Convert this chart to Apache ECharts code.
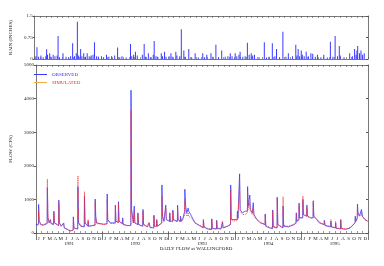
<!DOCTYPE html>
<html><head><meta charset="utf-8">
<script src="https://cdn.jsdelivr.net/npm/echarts@6/dist/echarts.min.js"></script>
<style>html,body{margin:0;padding:0;background:#fff}#c{width:384px;height:266px}</style>
</head><body><div id="c"></div>
<script>
const monthLetters = ['J','F','M','A','M','J','J','A','S','O','N','D'];
const yearLabels = ['1991','1992','1993','1994','1995'];
const rainTicks = [0, 0.75, 1.5];
const flowTicks = [0, 1000, 2000, 3000, 4000, 5000];

// rain: [date, inches]
const rain1991 = [["1991-01-05",0.1],["1991-01-11",0.41],["1991-01-20",0.08],["1991-02-02",0.12],["1991-02-14",0.06],["1991-03-01",0.1],["1991-03-05",0.34],["1991-03-10",0.15],["1991-03-22",0.2],["1991-03-28",0.08],["1991-04-10",0.15],["1991-04-20",0.1],["1991-05-02",0.12],["1991-05-07",0.8],["1991-05-15",0.06],["1991-06-03",0.2],["1991-06-20",0.08],["1991-07-05",0.05],["1991-07-15",0.1],["1991-07-26",0.55],["1991-08-05",0.1],["1991-08-15",0.2],["1991-08-21",1.3],["1991-08-28",0.12],["1991-09-08",0.35],["1991-09-15",0.1],["1991-09-25",0.2],["1991-10-05",0.08],["1991-10-14",0.2],["1991-10-25",0.1],["1991-11-05",0.12],["1991-11-15",0.15],["1991-11-23",0.58],["1991-12-05",0.1],["1991-12-15",0.08]];
const rain1992 = [["1992-01-01",0.1],["1992-01-12",0.06],["1992-01-28",0.15],["1992-02-10",0.08],["1992-02-25",0.1],["1992-03-13",0.12],["1992-03-29",0.4],["1992-04-10",0.06],["1992-04-22",0.1],["1992-05-15",0.05],["1992-06-08",0.52],["1992-06-15",0.1],["1992-06-25",0.15],["1992-07-05",0.25],["1992-07-15",0.12],["1992-08-12",0.15],["1992-08-22",0.52],["1992-08-30",0.08],["1992-09-14",0.2],["1992-09-25",0.06],["1992-10-11",0.15],["1992-10-16",0.63],["1992-10-26",0.1],["1992-11-05",0.08],["1992-11-24",0.2],["1992-12-01",0.1],["1992-12-12",0.25],["1992-12-20",0.08]];
const rain1993 = [["1993-01-06",0.1],["1993-01-16",0.2],["1993-01-23",0.08],["1993-02-12",0.25],["1993-02-18",0.12],["1993-03-06",0.1],["1993-03-14",1.04],["1993-03-28",0.3],["1993-04-05",0.08],["1993-04-24",0.35],["1993-05-10",0.06],["1993-05-29",0.2],["1993-06-15",0.05],["1993-07-10",0.2],["1993-07-20",0.06],["1993-08-01",0.15],["1993-08-24",0.2],["1993-09-05",0.08],["1993-09-20",0.5],["1993-10-05",0.06],["1993-10-22",0.3],["1993-11-10",0.08],["1993-11-25",0.1],["1993-12-08",0.2],["1993-12-18",0.1]];
const rain1994 = [["1994-01-04",0.2],["1994-01-13",0.1],["1994-01-25",0.15],["1994-01-31",0.25],["1994-02-15",0.08],["1994-02-28",0.1],["1994-03-12",0.57],["1994-03-22",0.15],["1994-04-02",0.2],["1994-04-10",0.12],["1994-04-20",0.15],["1994-05-15",0.06],["1994-06-13",0.58],["1994-06-25",0.05],["1994-07-10",0.08],["1994-07-27",0.55],["1994-08-10",0.1],["1994-08-19",0.35],["1994-09-05",0.06],["1994-09-23",0.95],["1994-10-10",0.08],["1994-10-23",0.2],["1994-11-15",0.1],["1994-12-03",0.5],["1994-12-10",0.12],["1994-12-16",0.35],["1994-12-24",0.1]];
const rain1995 = [["1995-01-02",0.3],["1995-01-08",0.15],["1995-01-18",0.1],["1995-01-29",0.25],["1995-02-10",0.1],["1995-02-24",0.2],["1995-03-06",0.18],["1995-03-20",0.08],["1995-04-01",0.15],["1995-04-20",0.06],["1995-05-06",0.15],["1995-05-25",0.05],["1995-06-11",0.6],["1995-06-25",0.08],["1995-07-07",0.8],["1995-07-20",0.1],["1995-07-30",0.45],["1995-08-04",0.12],["1995-08-25",0.06],["1995-09-25",0.2],["1995-10-10",0.1],["1995-10-22",0.35],["1995-10-30",0.15],["1995-11-04",0.3],["1995-11-08",0.45],["1995-11-18",0.2],["1995-11-26",0.3],["1995-12-05",0.15],["1995-12-14",0.2]];

// flow: [date, observed cfs, simulated cfs]
const flow1991 = [["1991-01-01",250,220],["1991-01-15",260,240],["1991-01-16",850,700],["1991-01-19",350,380],["1991-01-28",250,260],["1991-02-10",230,250],["1991-03-04",280,300],["1991-03-05",1350,1600],["1991-03-08",450,500],["1991-03-15",300,320],["1991-03-22",400,380],["1991-03-25",280,300],["1991-04-08",250,260],["1991-04-10",650,600],["1991-04-13",300,300],["1991-05-06",220,230],["1991-05-07",980,900],["1991-05-10",300,320],["1991-05-20",200,220],["1991-06-03",300,250],["1991-06-06",150,160],["1991-06-25",100,110],["1991-07-10",60,70],["1991-07-25",90,80],["1991-07-26",480,450],["1991-07-29",150,140],["1991-08-19",120,120],["1991-08-20",1380,1700],["1991-08-23",300,350],["1991-09-05",200,220],["1991-09-24",180,200],["1991-09-25",1100,1230],["1991-09-28",300,320],["1991-10-14",200,220],["1991-10-15",350,400],["1991-10-18",200,210],["1991-11-10",220,230],["1991-11-22",230,240],["1991-11-23",1010,900],["1991-11-26",500,400],["1991-12-01",300,280],["1991-12-20",280,270]];
const flow1992 = [["1992-01-10",260,250],["1992-01-27",280,260],["1992-01-28",1160,1000],["1992-01-31",400,380],["1992-02-15",300,280],["1992-03-12",300,290],["1992-03-13",830,800],["1992-03-16",350,330],["1992-03-29",320,300],["1992-03-30",930,850],["1992-04-02",350,350],["1992-04-20",280,270],["1992-04-22",450,420],["1992-04-25",250,260],["1992-05-20",220,220],["1992-06-06",230,220],["1992-06-07",4250,3650],["1992-06-10",700,600],["1992-06-20",300,300],["1992-06-25",800,700],["1992-06-28",300,300],["1992-07-14",250,250],["1992-07-15",600,550],["1992-07-18",250,260],["1992-08-10",200,210],["1992-08-12",700,650],["1992-08-15",250,260],["1992-09-05",180,190],["1992-09-14",300,320],["1992-09-20",160,170],["1992-10-10",150,160],["1992-10-11",530,500],["1992-10-14",200,210],["1992-10-25",200,200],["1992-10-26",400,380],["1992-10-30",200,210],["1992-11-23",300,280],["1992-11-24",1430,1100],["1992-11-27",500,500],["1992-12-05",350,350],["1992-12-14",350,340],["1992-12-15",830,750],["1992-12-18",400,400]];
const flow1993 = [["1993-01-05",350,340],["1993-01-06",600,580],["1993-01-09",350,350],["1993-01-22",350,340],["1993-01-23",680,650],["1993-01-26",400,380],["1993-02-17",350,330],["1993-02-18",830,750],["1993-02-21",400,380],["1993-03-05",350,330],["1993-03-06",500,480],["1993-03-10",350,340],["1993-03-20",450,400],["1993-03-29",650,550],["1993-03-30",1300,1000],["1993-04-03",800,650],["1993-04-10",600,500],["1993-04-17",740,600],["1993-04-20",650,500],["1993-05-01",550,450],["1993-05-15",400,380],["1993-05-25",300,300],["1993-06-10",250,250],["1993-06-20",200,220],["1993-07-09",150,180],["1993-07-10",400,380],["1993-07-13",180,200],["1993-08-01",120,140],["1993-08-24",100,130],["1993-08-25",420,400],["1993-08-28",130,140],["1993-09-20",120,130],["1993-09-21",380,350],["1993-09-24",130,140],["1993-10-15",120,140],["1993-10-22",140,160],["1993-10-23",330,350],["1993-10-26",150,160],["1993-11-20",200,210],["1993-12-06",250,260],["1993-12-07",1430,1300],["1993-12-10",400,450],["1993-12-20",350,350]];
const flow1994 = [["1994-01-12",400,380],["1994-01-13",650,600],["1994-01-16",450,420],["1994-01-24",450,420],["1994-01-25",1760,1500],["1994-01-28",700,650],["1994-02-10",600,550],["1994-02-25",650,550],["1994-03-09",650,600],["1994-03-10",1380,1200],["1994-03-13",800,700],["1994-03-21",750,650],["1994-03-22",1130,900],["1994-03-25",700,650],["1994-04-05",600,550],["1994-04-10",900,750],["1994-04-14",550,500],["1994-04-30",400,400],["1994-05-20",300,320],["1994-06-14",250,260],["1994-06-15",565,550],["1994-06-18",200,220],["1994-07-10",150,170],["1994-07-25",130,150],["1994-07-26",685,650],["1994-07-29",180,200],["1994-08-19",150,160],["1994-08-20",1060,1060],["1994-08-23",250,260],["1994-09-20",150,160],["1994-09-21",800,1080],["1994-09-24",200,230],["1994-10-20",180,200],["1994-11-20",250,260],["1994-12-01",300,280],["1994-12-03",600,560],["1994-12-06",350,340],["1994-12-17",400,380],["1994-12-18",890,800],["1994-12-21",450,450]];
const flow1995 = [["1995-01-07",450,450],["1995-01-08",1000,1100],["1995-01-11",550,550],["1995-01-20",500,500],["1995-01-29",500,500],["1995-01-30",830,750],["1995-02-02",500,500],["1995-02-20",450,450],["1995-03-05",450,450],["1995-03-06",960,900],["1995-03-09",500,500],["1995-03-25",400,420],["1995-04-02",350,380],["1995-04-04",450,420],["1995-04-08",300,330],["1995-05-05",250,250],["1995-05-06",380,350],["1995-05-10",220,230],["1995-06-10",180,200],["1995-06-11",350,400],["1995-06-14",180,190],["1995-07-06",150,160],["1995-07-07",300,350],["1995-07-10",140,150],["1995-08-03",120,130],["1995-08-04",400,380],["1995-08-07",130,140],["1995-09-01",110,120],["1995-09-25",150,160],["1995-10-05",200,220],["1995-10-22",300,300],["1995-10-23",500,450],["1995-10-26",350,350],["1995-11-03",450,420],["1995-11-04",860,750],["1995-11-07",600,550],["1995-11-15",500,500],["1995-11-25",550,520],["1995-11-26",700,650],["1995-12-01",500,500],["1995-12-15",400,400],["1995-12-31",350,350]];

const rain = [].concat(rain1991, rain1992, rain1993, rain1994, rain1995);
const flow = [].concat(flow1991, flow1992, flow1993, flow1994, flow1995);
const months = [];
for (let y = 0; y < yearLabels.length; y++) for (let m = 0; m < 12; m++) months.push(String(y * 12 + m));

const FONT = 'Liberation Serif';
const AX = '#555';
const T0 = '1991-01-01', T1 = '1996-01-01';
const lbl = { fontFamily: FONT, fontSize: 5, color: '#222' };

function monthAxis(grid, pos, opts) {
  return Object.assign({
    type: 'category', gridIndex: grid, position: pos, data: months, boundaryGap: true,
    axisLine: { show: true, lineStyle: { color: AX, width: 0.8 } },
    axisTick: { show: true, inside: true, length: 2, interval: 0, lineStyle: { color: AX, width: 0.6 } },
    axisLabel: { show: false }, splitLine: { show: false }
  }, opts || {});
}

const chart = echarts.init(document.getElementById('c'), null, { renderer: 'canvas' });
chart.setOption({
  animation: false,
  backgroundColor: '#fff',
  title: {
    text: 'DAILY FLOW at WALLINGFORD', left: 196, top: 246, textAlign: 'center', padding: 0,
    textStyle: { fontFamily: FONT, fontSize: 5, fontWeight: 'normal', color: '#222' }
  },
  grid: [
    { left: 25, right: 16, top: 16, height: 43 },
    { left: 25, right: 16, top: 65, height: 168 }
  ],
  legend: {
    left: 29, top: 67, orient: 'vertical', icon: 'rect', itemWidth: 13, itemHeight: 1, itemGap: 3,
    textStyle: { fontFamily: FONT, fontSize: 5 },
    data: [
      { name: 'OBSERVED', textStyle: { color: '#3030ff' } },
      { name: 'SIMULATED', textStyle: { color: '#ff2020' }, itemStyle: { color: '#e8b040' } }
    ]
  },
  xAxis: [
    { type: 'time', gridIndex: 0, min: T0, max: T1, show: false },
    { type: 'time', gridIndex: 1, min: T0, max: T1, show: false },
    monthAxis(0, 'bottom'),
    monthAxis(0, 'top'),
    monthAxis(1, 'bottom', {
      axisLabel: { show: true, interval: 0, margin: 3, fontFamily: FONT, fontSize: 5, color: '#222',
        formatter: (v, i) => monthLetters[i % 12] }
    }),
    monthAxis(1, 'top'),
    {
      type: 'category', gridIndex: 1, position: 'bottom', offset: 7, data: yearLabels, boundaryGap: true,
      axisLine: { show: false },
      axisTick: { show: true, inside: true, length: 8, interval: 0, lineStyle: { color: AX, width: 0.8 } },
      axisLabel: { show: true, interval: 0, margin: 1, fontFamily: FONT, fontSize: 5, color: '#222' }
    }
  ],
  yAxis: [
    { type: 'value', gridIndex: 0, min: 0, max: 1.5, interval: 0.75, position: 'left',
      axisLine: { show: true, lineStyle: { color: AX, width: 0.8 } },
      axisTick: { show: true, length: 2, lineStyle: { color: AX } },
      axisLabel: Object.assign({ margin: 2, showMinLabel: true, showMaxLabel: true, formatter: v => rainTicks.indexOf(v) >= 0 ? String(v) : '' }, lbl),
      splitLine: { show: false },
      name: 'RAIN (INCHES)', nameLocation: 'middle', nameGap: 13, nameRotate: 90,
      nameTextStyle: { fontFamily: FONT, fontSize: 5, color: '#222' } },
    { type: 'value', gridIndex: 0, min: 0, max: 1.5, interval: 0.75, position: 'right',
      axisLine: { show: true, lineStyle: { color: AX, width: 0.8 } },
      axisTick: { show: true, inside: true, length: 2, lineStyle: { color: AX } },
      axisLabel: { show: false }, splitLine: { show: false } },
    { type: 'value', gridIndex: 1, min: 0, max: 5000, interval: 1000, position: 'left',
      axisLine: { show: true, lineStyle: { color: AX, width: 0.8 } },
      axisTick: { show: true, length: 2, lineStyle: { color: AX } },
      axisLabel: Object.assign({ margin: 2, showMinLabel: true, showMaxLabel: true, formatter: v => flowTicks.indexOf(v) >= 0 ? String(v) : '' }, lbl),
      splitLine: { show: false },
      name: 'FLOW (CFS)', nameLocation: 'middle', nameGap: 15, nameRotate: 90,
      nameTextStyle: { fontFamily: FONT, fontSize: 5, color: '#222' } },
    { type: 'value', gridIndex: 1, min: 0, max: 5000, interval: 1000, position: 'right',
      axisLine: { show: true, lineStyle: { color: AX, width: 0.8 } },
      axisTick: { show: true, inside: true, length: 2, lineStyle: { color: AX } },
      axisLabel: { show: false }, splitLine: { show: false } }
  ],
  series: [
    { name: 'RAIN', type: 'bar', xAxisIndex: 0, yAxisIndex: 0, barWidth: 1, barGap: 0,
      itemStyle: { color: '#3a3aff' }, data: rain },
    { name: 'OBSERVED', type: 'line', xAxisIndex: 1, yAxisIndex: 2, symbol: 'none',
      lineStyle: { color: '#3a3aff', width: 0.8 }, itemStyle: { color: '#3a3aff' },
      data: flow.map(r => [r[0], r[1]]) },
    { name: 'SIMULATED', type: 'line', xAxisIndex: 1, yAxisIndex: 2, symbol: 'none',
      lineStyle: { color: '#ff3030', width: 0.9, type: 'dotted' }, itemStyle: { color: '#ff3030' },
      data: flow.map(r => [r[0], r[2]]) }
  ]
});
</script>
</body></html>
